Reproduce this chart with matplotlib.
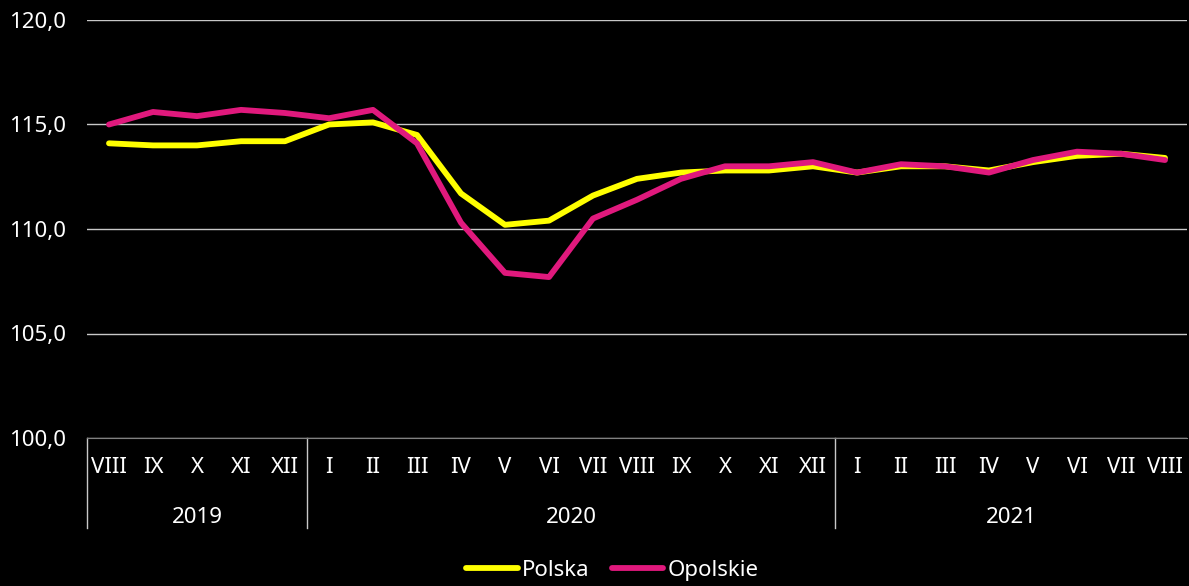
import matplotlib.pyplot as plt
import matplotlib.transforms as mtransforms

months = ['VIII', 'IX', 'X', 'XI', 'XII',
          'I', 'II', 'III', 'IV', 'V', 'VI', 'VII', 'VIII', 'IX', 'X', 'XI', 'XII',
          'I', 'II', 'III', 'IV', 'V', 'VI', 'VII', 'VIII']
years = ['2019', '2020', '2021']
year_counts = [5, 12, 8]

polska = [114.1, 114.0, 114.0, 114.2, 114.2,
          115.0, 115.1, 114.5, 111.7, 110.2, 110.4, 111.6, 112.4, 112.7, 112.8, 112.8, 113.0,
          112.7, 113.0, 113.0, 112.8, 113.2, 113.5, 113.6, 113.4]
opolskie = [115.0, 115.6, 115.4, 115.7, 115.55,
            115.3, 115.7, 114.1, 110.3, 107.9, 107.7, 110.5, 111.4, 112.4, 113.0, 113.0, 113.2,
            112.7, 113.1, 113.0, 112.7, 113.3, 113.7, 113.6, 113.3]

plt.rcParams['font.family'] = ['Noto Sans', 'DejaVu Sans']
fs = 16

fig = plt.figure(figsize=(11.89, 5.86), dpi=100, facecolor='black')
ax = fig.add_axes([87 / 1189, 1 - 438 / 586, 1100 / 1189, 418 / 586], facecolor='black')

x = list(range(len(months)))
ax.plot(x, polska, color='#ffff00', lw=4.2, label='Polska', solid_capstyle='round')
ax.plot(x, opolskie, color='#e0197d', lw=4.2, label='Opolskie', solid_capstyle='round')

ax.set_xlim(-0.5, len(months) - 0.5)
ax.set_ylim(100, 120)
ax.set_yticks([100, 105, 110, 115, 120])
ax.set_yticklabels(['100,0', '105,0', '110,0', '115,0', '120,0'])
ax.yaxis.grid(True, color='#c8c8c8', lw=1)
ax.set_axisbelow(True)
for s in ['top', 'right', 'left']:
    ax.spines[s].set_visible(False)
ax.spines['bottom'].set_color('#808080')
ax.tick_params(axis='y', length=0, colors='white', labelsize=fs, pad=15)
ax.tick_params(axis='x', length=0, colors='white', labelsize=fs, pad=14)
ax.set_xticks(x)
ax.set_xticklabels(months)

# year separators and labels
trans = mtransforms.blended_transform_factory(ax.transData, ax.transAxes)
start = 0
bounds = [-0.5]
for yr, n in zip(years, year_counts):
    ax.text(start + (n - 1) / 2, -0.19, yr, transform=trans, color='white',
            fontsize=fs, ha='center', va='center')
    start += n
    bounds.append(start - 0.5)
for b in bounds[:-1]:
    ax.plot([b, b], [0, -0.215], transform=trans, color='#c8c8c8', lw=1, clip_on=False)

leg = fig.legend(loc='lower center', bbox_to_anchor=(0.515, -0.025), ncol=2, frameon=False,
                 fontsize=fs, labelcolor='white', handlelength=2.3, handletextpad=0.2,
                 columnspacing=1.0)

fig.savefig('out.png', dpi=100, facecolor='black')
